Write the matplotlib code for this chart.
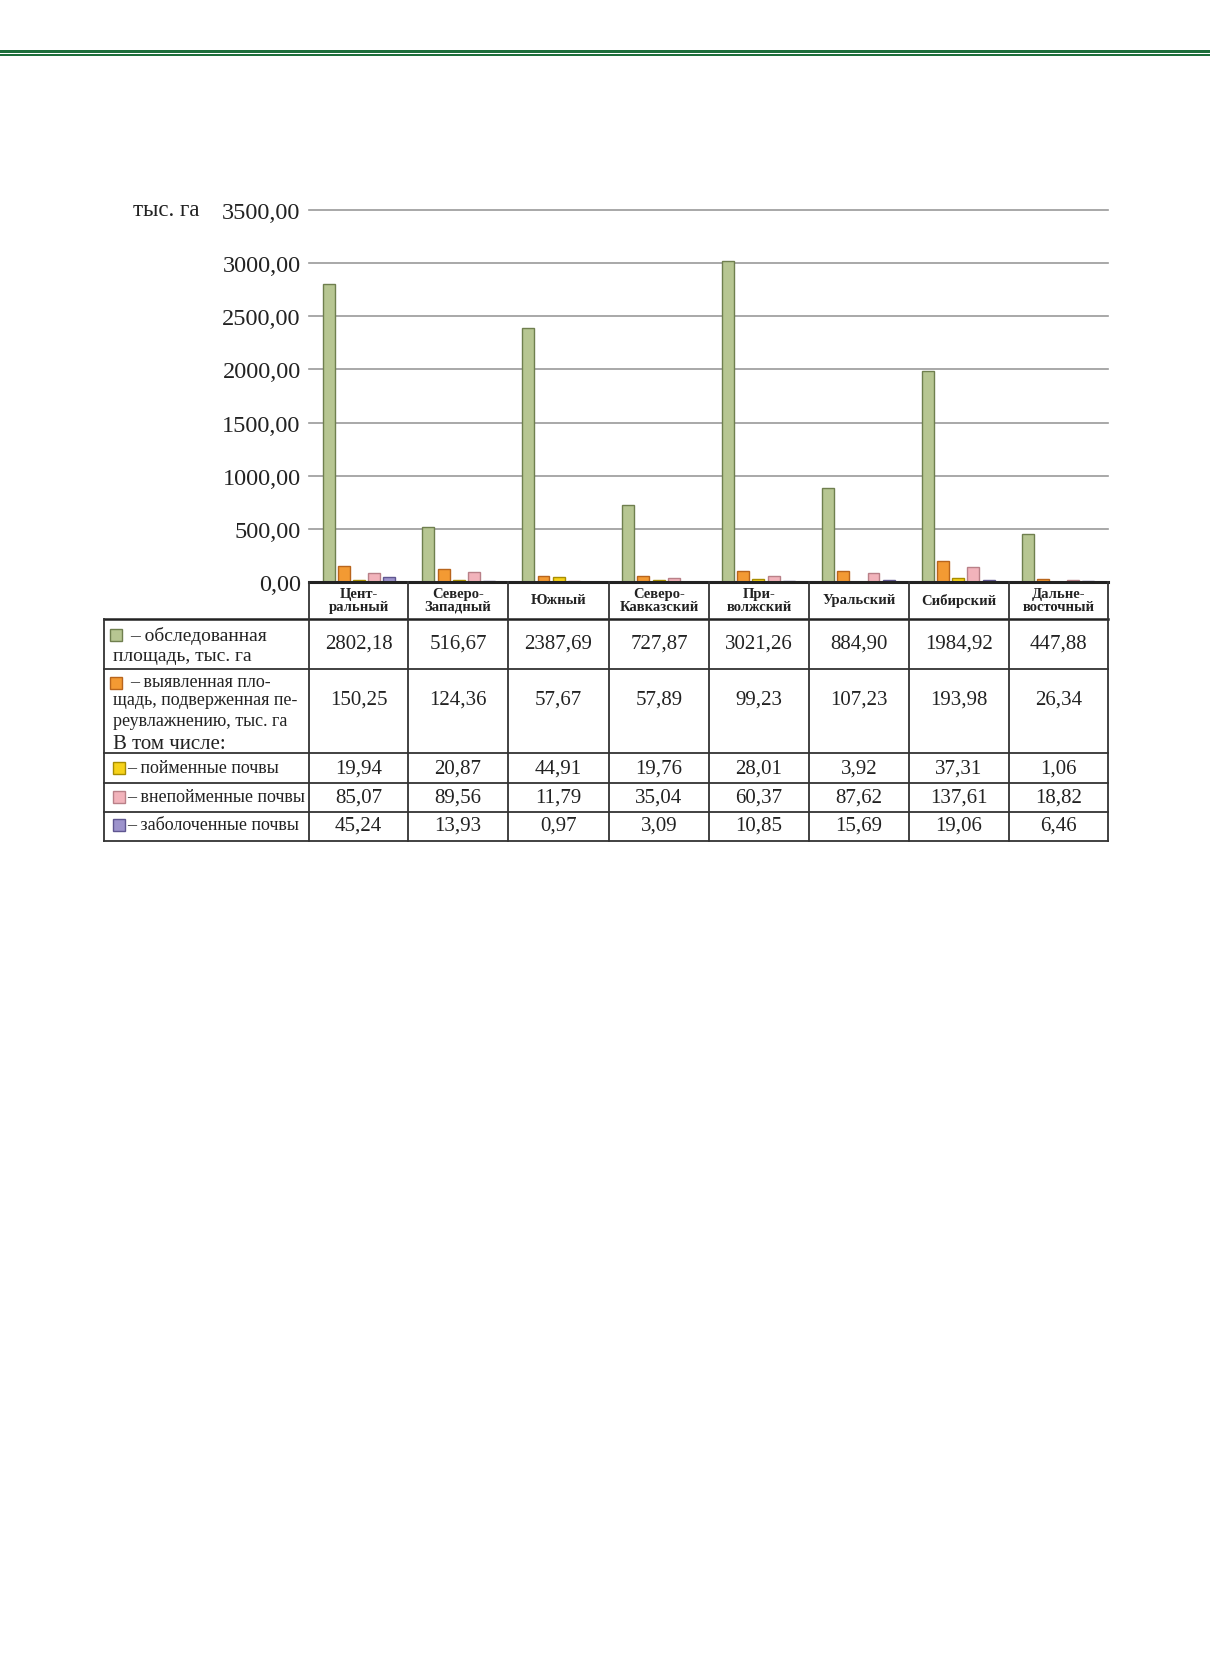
import numpy as np
import matplotlib.pyplot as plt
from matplotlib.patches import Rectangle

plt.rcParams['font.family'] = ['Liberation Serif', 'DejaVu Serif']

# data
regions = ['Цент-\nральный', 'Северо-\nЗападный', 'Южный', 'Северо-\nКавказский',
           'При-\nволжский', 'Уральский', 'Сибирский', 'Дальне-\nвосточный']
surveyed = [2802.18, 516.67, 2387.69, 727.87, 3021.26, 884.90, 1984.92, 447.88]
wet_total = [150.25, 124.36, 57.67, 57.89, 99.23, 107.23, 193.98, 26.34]
floodplain = [19.94, 20.87, 44.91, 19.76, 28.01, 3.92, 37.31, 1.06]
non_flood = [85.07, 89.56, 11.79, 35.04, 60.37, 87.62, 137.61, 18.82]
boggy = [45.24, 13.93, 0.97, 3.09, 10.85, 15.69, 19.06, 6.46]

series = [surveyed, wet_total, floodplain, non_flood, boggy]
fills = ['#b7c692', '#f39a33', '#f6d21a', '#f2b3bb', '#9d93cc']
edges = ['#6f7f4e', '#b8651c', '#a88d00', '#b98088', '#5f5690']

W, H = 1210, 1681
fig = plt.figure(figsize=(W / 100, H / 100), dpi=100)

def fx(x): return x / W
def fy(y): return 1 - y / H

# bar chart area
left, right, top, bottom = 309, 1108, 211, 583
ax = fig.add_axes([fx(left), fy(bottom), fx(right - left), (bottom - top) / H])
x = np.arange(len(regions)) + 0.5
step, bw = 0.152, 0.12
for k, vals in enumerate(series):
    ax.bar(x + (k - 2) * step, vals, bw, color=fills[k], edgecolor=edges[k], linewidth=1.0, zorder=3)
ax.set_xlim(0, len(regions))
ax.set_ylim(0, 3500)
yt = np.arange(0, 3501, 500)
ax.set_yticks(yt)
ax.set_yticklabels([f'{v:.2f}'.replace('.', ',') for v in yt], fontsize=17.5, color='#222')
ax.yaxis.grid(True, color='#9a9a9a', linewidth=1.2, zorder=0)
for gl in ax.get_ygridlines():
    gl.set_clip_on(False)
ax.set_xticks([])
ax.tick_params(axis='y', length=0, pad=6)
for s in ['top', 'right', 'left', 'bottom']:
    ax.spines[s].set_visible(False)
ax.set_facecolor('none')

# overlay in pixel coordinates for the table and page decoration
t = fig.add_axes([0, 0, 1, 1], zorder=5)
t.set_xlim(0, W)
t.set_ylim(H, 0)
t.axis('off')
t.set_facecolor('none')

t.add_patch(Rectangle((0, 50.5), W, 3.7, color='#1d6e3b', lw=0))
t.add_patch(Rectangle((0, 55.4), W, 1.4, color='#1d6e3b', lw=0))
t.text(133, 210, 'тыс. га', fontsize=16.5, va='center', ha='left', color='#222')

cols = [309, 408, 508, 609, 709, 809, 909, 1009, 1108]
rows = [620, 670, 754, 784, 813, 842]
lc = '#333333'
t.plot([309, 1108], [583, 583], color='#222', lw=2.2)
t.plot([104, 1108], [620, 620], color='#222', lw=1.8)
for yy in rows[1:]:
    t.plot([104, 1108], [yy, yy], color=lc, lw=1.3)
t.plot([104, 104], [620, 842], color=lc, lw=1.3)
for cx in cols:
    t.plot([cx, cx], [583, 842], color=lc, lw=1.3)

for i, name in enumerate(regions):
    cx = (cols[i] + cols[i + 1]) / 2
    t.text(cx, 601, name, ha='center', va='center', fontsize=10.5, fontweight='bold',
           linespacing=0.95, color='#222')

row_y = [644, 700, 769, 798, 826]
for r, vals in enumerate(series):
    for i, v in enumerate(vals):
        cx = (cols[i] + cols[i + 1]) / 2
        t.text(cx, row_y[r], f'{v:.2f}'.replace('.', ','), ha='center', va='center',
               fontsize=15, color='#222')

def swatch(x0, y0, k, s=12):
    t.add_patch(Rectangle((x0, y0), s, s, facecolor=fills[k], edgecolor=edges[k], lw=1.0))

fs = 13
swatch(110, 630, 0)
t.text(130, 636, '– обследованная', fontsize=14, va='center', color='#222')
t.text(113, 657, 'площадь, тыс. га', fontsize=14, va='center', color='#222')
swatch(110, 678, 1)
t.text(130, 683, '– выявленная пло-', fontsize=fs, va='center', color='#222')
t.text(113, 701, 'щадь, подверженная пе-', fontsize=fs, va='center', color='#222')
t.text(113, 722, 'реувлажнению, тыс. га', fontsize=fs, va='center', color='#222')
t.text(113, 745, 'В том числе:', fontsize=15, va='center', color='#222')
swatch(113, 763, 2)
t.text(127, 769, '– пойменные почвы', fontsize=fs, va='center', color='#222')
swatch(113, 792, 3)
t.text(127, 798, '– внепойменные почвы', fontsize=fs, va='center', color='#222')
swatch(113, 820, 4)
t.text(127, 826, '– заболоченные почвы', fontsize=fs, va='center', color='#222')

fig.savefig('out.png', dpi=100)
